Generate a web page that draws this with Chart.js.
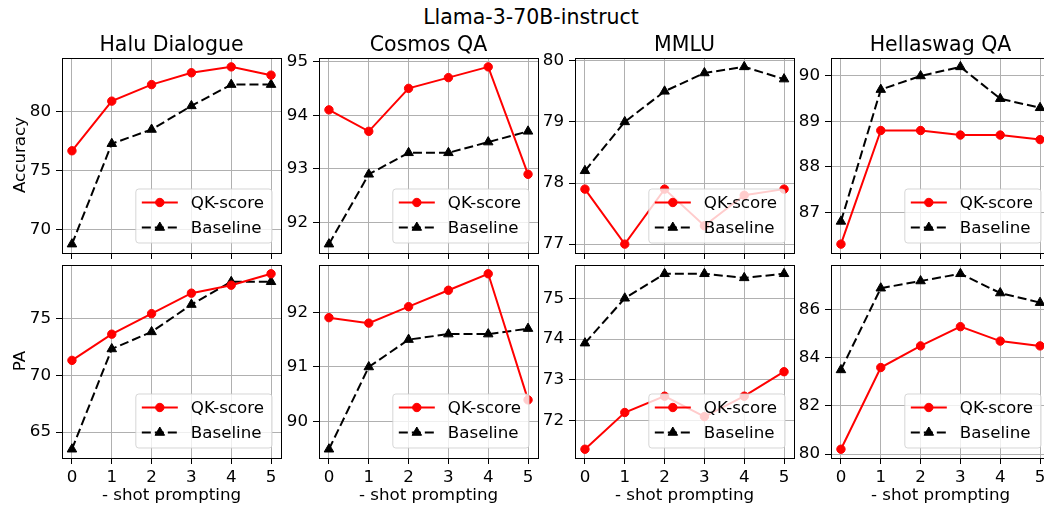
<!DOCTYPE html>
<html>
<head>
<meta charset="utf-8">
<script src="https://cdn.jsdelivr.net/npm/chart.js@4.4.0/dist/chart.umd.min.js"></script>
<style>
  html, body { margin:0; padding:0; width:1044px; height:508px; overflow:hidden; background:#fff; }
  body { position:relative; font-family:"DejaVu Sans", sans-serif; }
  canvas { position:absolute; }
  .t { position:absolute; white-space:nowrap; color:#000; line-height:1; transform:translate(-50%,-50%); }
</style>
</head>
<body>
<script>
// ---- data ----
const shots = [0, 1, 2, 3, 4, 5];
const titles = ['Halu Dialogue', 'Cosmos QA', 'MMLU', 'Hellaswag QA'];
const rowLabels = ['Accuracy', 'PA'];
const xLabel = '- shot prompting';
const supTitle = 'Llama-3-70B-instruct';
const seriesNames = ['QK-score', 'Baseline'];

const haluAccQK    = [76.7, 80.9, 82.3, 83.3, 83.8, 83.1];
const haluAccBase  = [68.8, 77.3, 78.5, 80.5, 82.3, 82.3];
const cosmosAccQK  = [94.1, 93.7, 94.5, 94.7, 94.9, 92.9];
const cosmosAccBase= [91.6, 92.9, 93.3, 93.3, 93.5, 93.7];
const mmluAccQK    = [77.9, 77.0, 77.9, 77.3, 77.8, 77.9];
const mmluAccBase  = [78.2, 79.0, 79.5, 79.8, 79.9, 79.7];
const hellaAccQK   = [86.3, 88.8, 88.8, 88.7, 88.7, 88.6];
const hellaAccBase = [86.8, 89.7, 90.0, 90.2, 89.5, 89.3];

const haluPaQK     = [71.3, 73.6, 75.4, 77.2, 77.9, 78.9];
const haluPaBase   = [63.5, 72.3, 73.8, 76.2, 78.2, 78.2];
const cosmosPaQK   = [91.9, 91.8, 92.1, 92.4, 92.7, 90.4];
const cosmosPaBase = [89.5, 91.0, 91.5, 91.6, 91.6, 91.7];
const mmluPaQK     = [71.3, 72.2, 72.6, 72.1, 72.6, 73.2];
const mmluPaBase   = [73.9, 75.0, 75.6, 75.6, 75.5, 75.6];
const hellaPaQK    = [80.2, 83.6, 84.5, 85.3, 84.7, 84.5];
const hellaPaBase  = [83.5, 86.9, 87.2, 87.5, 86.7, 86.3];

const haluAccTicks   = [70, 75, 80];
const cosmosAccTicks = [92, 93, 94, 95];
const mmluAccTicks   = [77, 78, 79, 80];
const hellaAccTicks  = [87, 88, 89, 90];
const haluPaTicks    = [65, 70, 75];
const cosmosPaTicks  = [90, 91, 92];
const mmluPaTicks    = [72, 73, 74, 75];
const hellaPaTicks   = [80, 82, 84, 86];

const panels = [
  [haluAccQK, haluAccBase, haluAccTicks], [cosmosAccQK, cosmosAccBase, cosmosAccTicks],
  [mmluAccQK, mmluAccBase, mmluAccTicks], [hellaAccQK, hellaAccBase, hellaAccTicks],
  [haluPaQK, haluPaBase, haluPaTicks], [cosmosPaQK, cosmosPaBase, cosmosPaTicks],
  [mmluPaQK, mmluPaBase, mmluPaTicks], [hellaPaQK, hellaPaBase, hellaPaTicks]
];

// ---- layout ----
const colLeft = [62, 319, 575, 831];
const AX_W = 219;
const rowTop = [57, 264];
const rowH = [196, 194];
const Y_W = 60, PT = 14, PR = 14;
const FS = 16.7, TFS = 20.5;

Chart.defaults.font.family = '"DejaVu Sans", sans-serif';
Chart.defaults.font.size = FS;
Chart.defaults.color = '#000';

function addText(txt, x, y, size, rot) {
  const d = document.createElement('div');
  d.className = 't';
  d.textContent = txt;
  d.style.left = x + 'px';
  d.style.top = y + 'px';
  d.style.fontSize = size + 'px';
  if (rot) d.style.transform = 'translate(-50%,-50%) rotate(-90deg)';
  document.body.appendChild(d);
}

function drawMarker(ctx, style, r, x, y) {
  if (Chart.helpers && Chart.helpers.drawPoint) {
    Chart.helpers.drawPoint(ctx, { pointStyle: style, radius: r, borderWidth: 1, rotation: 0 }, x, y);
    return;
  }
  ctx.beginPath();
  ctx.arc(x, y, r, 0, Math.PI * 2);
  ctx.fill(); ctx.stroke();
}

// frame + inset legend (lower right, like matplotlib)
const frameLegend = {
  id: 'frameLegend',
  afterDatasetsDraw(chart) {
    const ctx = chart.ctx, a = chart.chartArea;
    ctx.save();
    ctx.setLineDash([]);
    ctx.strokeStyle = '#000';
    ctx.lineWidth = 1;
    const l = Math.round(a.left) + 0.5, t = Math.round(a.top) + 0.5;
    const r = Math.round(a.right) + 0.5, b = Math.round(a.bottom) + 0.5;
    ctx.strokeRect(l, t, r - l, b - t);

    ctx.font = FS + 'px "DejaVu Sans"';
    const ds = chart.data.datasets;
    const tw = Math.max(...ds.map(d => ctx.measureText(d.label).width));
    const bw = 55 + tw + 8, bh = 54;
    const x0 = a.right - 9 - bw, y0 = a.bottom - 10 - bh;
    ctx.beginPath();
    ctx.roundRect(x0, y0, bw, bh, 3);
    ctx.fillStyle = 'rgba(255,255,255,0.8)';
    ctx.fill();
    ctx.strokeStyle = 'rgba(204,204,204,0.8)';
    ctx.stroke();
    ds.forEach((d, i) => {
      const cy = y0 + 13.5 + i * 25;
      ctx.setLineDash(d.borderDash || []);
      ctx.strokeStyle = d.borderColor;
      ctx.lineWidth = d.borderWidth;
      ctx.beginPath();
      ctx.moveTo(x0 + 6, cy);
      ctx.lineTo(x0 + 42, cy);
      ctx.stroke();
      ctx.setLineDash([]);
      ctx.fillStyle = d.pointBackgroundColor;
      ctx.strokeStyle = d.pointBorderColor;
      ctx.lineWidth = 1;
      drawMarker(ctx, d.pointStyle, d.pointRadius, x0 + 24, cy);
      ctx.fillStyle = '#000';
      ctx.textBaseline = 'middle';
      ctx.textAlign = 'left';
      ctx.fillText(d.label, x0 + 55, cy + 1);
    });
    ctx.restore();
  }
};

panels.forEach((p, idx) => {
  const row = Math.floor(idx / 4), col = idx % 4;
  const [qk, base, yTicks] = p;
  const lo = Math.min(...qk, ...base), hi = Math.max(...qk, ...base);
  const m = (hi - lo) * 0.05;
  const X_H = row === 1 ? 36 : 20;

  const cv = document.createElement('canvas');
  const W = Y_W + AX_W + PR, H = PT + rowH[row] + X_H;
  cv.width = W; cv.height = H;
  cv.style.left = (colLeft[col] - Y_W) + 'px';
  cv.style.top = (rowTop[row] - PT) + 'px';
  cv.style.width = W + 'px'; cv.style.height = H + 'px';
  document.body.appendChild(cv);

  new Chart(cv, {
    type: 'line',
    data: {
      labels: shots,
      datasets: [
        { label: seriesNames[0], data: qk, borderColor: '#ff0000', backgroundColor: '#ff0000',
          pointBackgroundColor: '#ff0000', pointBorderColor: '#ff0000', borderWidth: 2,
          pointStyle: 'circle', pointRadius: 4.2, pointBorderWidth: 1, tension: 0 },
        { label: seriesNames[1], data: base, borderColor: '#000000', backgroundColor: '#000000',
          pointBackgroundColor: '#000000', pointBorderColor: '#000000', borderWidth: 2,
          borderDash: [9, 4], pointStyle: 'triangle', pointRadius: 5.5, pointBorderWidth: 1, tension: 0 }
      ]
    },
    options: {
      responsive: false,
      animation: false,
      devicePixelRatio: 1,
      layout: { padding: { top: PT, right: PR, left: 0, bottom: 0 } },
      plugins: { legend: { display: false }, tooltip: { enabled: false } },
      scales: {
        x: {
          type: 'linear', min: -0.25, max: 5.25,
          afterBuildTicks: s => { s.ticks = shots.map(v => ({ value: v })); },
          afterFit: s => { s.height = X_H; },
          grid: { color: '#b0b0b0', lineWidth: 1, tickColor: '#000', tickLength: 6, tickWidth: 1 },
          border: { display: false },
          ticks: { display: row === 1, padding: 4, autoSkip: false, maxRotation: 0, color: '#000' }
        },
        y: {
          min: lo - m, max: hi + m,
          afterBuildTicks: s => { s.ticks = yTicks.map(v => ({ value: v })); },
          afterFit: s => { s.width = Y_W; },
          grid: { color: '#b0b0b0', lineWidth: 1, tickColor: '#000', tickLength: 6, tickWidth: 1 },
          border: { display: false },
          ticks: { padding: 5, autoSkip: false, color: '#000' }
        }
      }
    },
    plugins: [frameLegend]
  });
});

addText(supTitle, 531, 17, TFS);
titles.forEach((t, i) => addText(t, colLeft[i] + AX_W / 2, 44, TFS));
rowLabels.forEach((t, i) => addText(t, 19, rowTop[i] + rowH[i] / 2, FS, true));
colLeft.forEach(x => addText(xLabel, x + AX_W / 2, 493.5, FS));
</script>
</body>
</html>
